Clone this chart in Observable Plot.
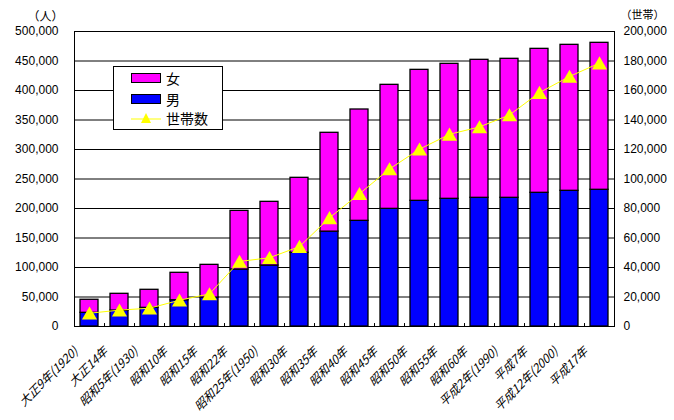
<!DOCTYPE html>
<html><head><meta charset="utf-8">
<script src="https://cdn.jsdelivr.net/npm/d3@7"></script>
<script src="https://cdn.jsdelivr.net/npm/@observablehq/plot@0.6"></script>
<style>
body{margin:0;background:#fff;}
#wrap{position:relative;width:674px;height:420px;overflow:hidden;}
#legend{position:absolute;left:113px;top:66px;width:110px;height:64px;border:1px solid #000;background:#fff;
 font-family:"Noto Sans CJK JP";font-size:14px;box-sizing:border-box;}
#legend .row{position:absolute;left:17px;height:16px;display:flex;align-items:center;}
#legend .sw{width:28px;height:8px;border:1px solid #000;margin-right:5px;}
#legend span{line-height:16px;}
</style></head><body><div id="wrap"></div>
<script>
const categories = ["大正9年(1920)","大正14年","昭和5年(1930)","昭和10年","昭和15年","昭和22年","昭和25年(1950)","昭和30年","昭和35年","昭和40年","昭和45年","昭和50年","昭和55年","昭和60年","平成2年(1990)","平成7年","平成12年(2000)","平成17年"];
const male   = [23200, 27100, 31600, 44500, 49000, 96600, 103400, 124900, 160800, 179100, 199400, 213000, 216400, 218100, 218100, 226600, 230000, 231700];
const female = [22100, 28300, 30600, 46500, 55500, 99400, 107900, 127100, 167500, 188700, 210200, 222000, 228800, 233900, 235600, 244000, 247400, 249100];
const households = [9000, 11100, 12400, 17800, 22100, 44100, 46600, 54200, 73700, 90000, 106800, 120200, 130300, 135300, 143400, 158600, 169500, 178600];
const leftTicks = [0,50000,100000,150000,200000,250000,300000,350000,400000,450000,500000];
const rightTicks = [0,20000,40000,60000,80000,100000,120000,140000,160000,180000,200000];
const seriesNames = ["女","男","世帯数"];
const colors = ["#ff00ff","#0000ff","#ffff00"];

const ratio = 500000/200000;
const long = categories.flatMap((c,i)=>[
  {cat:c, sex:"男", v:male[i]},
  {cat:c, sex:"女", v:female[i]}
]);
const hh = categories.map((c,i)=>({cat:c, h:households[i]}));
const fmt = d3.format(",");

const chart = Plot.plot({
  width:674, height:420,
  marginLeft:74, marginRight:60, marginTop:31, marginBottom:94,
  style:{fontFamily:"'Liberation Sans', Arial, sans-serif", fontSize:"12px", background:"#fff", color:"#000"},
  x:{domain:categories, paddingInner:0.4, paddingOuter:0.2, axis:null},
  y:{domain:[0,500000], axis:null},
  color:{domain:["女","男"], range:[colors[0],colors[1]]},
  marks:[
    Plot.ruleY(leftTicks, {stroke:"#000", strokeWidth:1}),
    Plot.barY(long, {x:"cat", y:"v", fill:"sex", stroke:"#000", strokeWidth:1.3, order:["男","女"]}),
    Plot.ruleX(categories, {x:d=>d, y1:0, y2:5000, dx:-15, stroke:"#000"}),
    Plot.ruleX([categories[categories.length-1]], {x:d=>d, y1:0, y2:5000, dx:15, stroke:"#000"}),
    Plot.line(hh, {x:"cat", y:d=>d.h*ratio, stroke:colors[2], strokeWidth:1}),
    Plot.dot(hh, {x:"cat", y:d=>d.h*ratio, symbol:"triangle", r:5.6, fill:colors[2], stroke:"none", dy:2}),
    Plot.frame({stroke:"#000"}),
    Plot.axisY({ticks:leftTicks, tickSize:0, tickPadding:16, tickFormat:fmt, label:null}),
    Plot.axisY({anchor:"right", ticks:rightTicks.map(d=>d*ratio), tickSize:0, tickPadding:9, tickFormat:d=>fmt(Math.round(d/ratio)), label:null}),
    Plot.text(categories, {x:d=>d, frameAnchor:"bottom", text:d=>d, rotate:-45, textAnchor:"end", lineAnchor:"top",
      dx:-15, dy:18, fontFamily:"'Noto Sans CJK JP'", fontSize:12, className:"xlab"}),
    Plot.text(["（人）"], {frameAnchor:"top-left", text:d=>d, textAnchor:"middle", dx:-29, dy:-19, fontFamily:"'Noto Sans CJK JP'", fontSize:12}),
    Plot.text(["（世帯）"], {frameAnchor:"top-right", text:d=>d, textAnchor:"middle", dx:28, dy:-20, fontFamily:"'Noto Sans CJK JP'", fontSize:11})
  ]
});
const wrap = document.getElementById("wrap");
wrap.appendChild(chart);
d3.select(chart).selectAll("g.xlab text").each(function(){
  const t = this.getAttribute("transform") || "";
  this.setAttribute("transform", t + " skewX(-18)");
});

const lg = document.createElement("div");
lg.id = "legend";
lg.innerHTML = `
 <div class="row" style="top:3px"><div class="sw" style="background:${colors[0]}"></div><span>${seriesNames[0]}</span></div>
 <div class="row" style="top:24px"><div class="sw" style="background:${colors[1]}"></div><span>${seriesNames[1]}</span></div>
 <div class="row" style="top:43px"><svg width="30" height="12" style="margin-right:5px"><line x1="0" x2="30" y1="7" y2="7" stroke="${colors[2]}"/><polygon points="15,1 20,11 10,11" fill="${colors[2]}"/></svg><span>${seriesNames[2]}</span></div>`;
wrap.appendChild(lg);
</script>
</body></html>
